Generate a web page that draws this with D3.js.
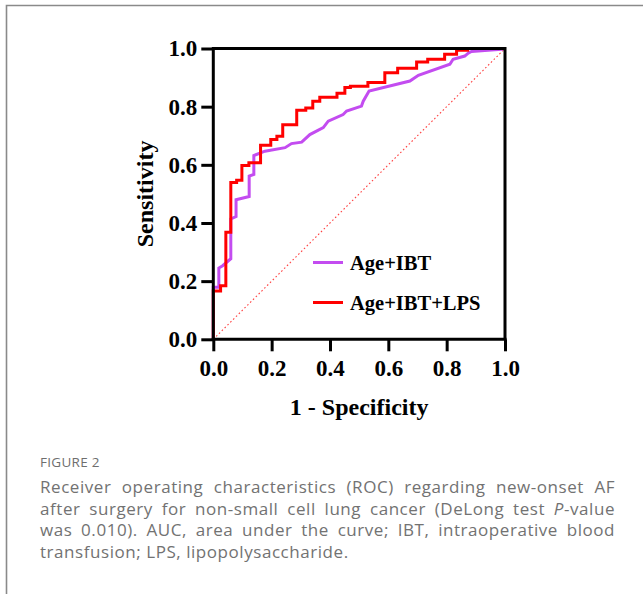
<!DOCTYPE html>
<html>
<head>
<meta charset="utf-8">
<script src="https://cdn.jsdelivr.net/npm/d3@7"></script>
<style>
html,body{margin:0;padding:0;background:#fff;}
svg{display:block;}
</style>
</head>
<body>
<svg id="chart" width="643" height="594"></svg>
<script>
// ---- data ----
const xTicks = [0, 0.2, 0.4, 0.6, 0.8, 1.0];
const yTicks = [0, 0.2, 0.4, 0.6, 0.8, 1.0];
const seriesNames = ["Age+IBT", "Age+IBT+LPS"];
// Age+IBT (purple) ROC vertices
const ageIbtFpr = [0,0,0.019,0.019,0.032,0.060,0.060,0.078,0.078,0.123,0.123,0.139,0.139,0.177,0.246,0.268,0.303,0.331,0.377,0.394,0.445,0.457,0.508,0.514,0.534,0.674,0.703,0.811,0.822,0.862,0.874,0.885,0.988,1];
const ageIbtTpr = [0,0.179,0.179,0.245,0.253,0.277,0.414,0.422,0.480,0.491,0.561,0.567,0.632,0.647,0.659,0.673,0.678,0.704,0.728,0.750,0.773,0.785,0.802,0.819,0.854,0.888,0.908,0.946,0.963,0.974,0.984,0.990,0.997,1];
// Age+IBT+LPS (red) ROC points (step after)
const ageIbtLpsFpr = [0,0,0.025,0.043,0.060,0.080,0.098,0.122,0.162,0.197,0.218,0.238,0.286,0.317,0.341,0.365,0.424,0.451,0.470,0.530,0.588,0.632,0.697,0.735,0.793,0.834,0.872,1];
const ageIbtLpsTpr = [0,0.166,0.184,0.368,0.539,0.547,0.598,0.607,0.667,0.687,0.698,0.738,0.788,0.795,0.819,0.832,0.846,0.866,0.870,0.883,0.917,0.932,0.954,0.963,0.980,0.994,1.0,1];
const captionTitle = "FIGURE 2";
const captionLines = [
  [{t:"Receiver operating characteristics (ROC) regarding new-onset AF"}],
  [{t:"after surgery for non-small cell lung cancer (DeLong test "},{t:"P",i:true},{t:"-value"}],
  [{t:"was 0.010). AUC, area under the curve; IBT, intraoperative blood"}],
  [{t:"transfusion; LPS, lipopolysaccharide."}]
];

// ---- drawing ----
const svg = d3.select("#chart");
svg.append("rect").attr("width",643).attr("height",594).attr("fill","#fff");
// page frame
svg.append("path").attr("d","M6.5,594 V5.5 H643").attr("fill","none").attr("stroke","#8a8a8a").attr("stroke-width",1.6);

const x = d3.scaleLinear().domain([0,1]).range([213.3,505]);
const y = d3.scaleLinear().domain([0,1]).range([339.3,48.5]);
const serif = "'Liberation Serif','Times New Roman',serif";

// diagonal reference
svg.append("line").attr("x1",x(0)).attr("y1",y(0)).attr("x2",x(1)).attr("y2",y(1))
  .attr("stroke","#ff4040").attr("stroke-width",1.1).attr("stroke-dasharray","1.6,2.4");

// curves
const purple = ageIbtFpr.map((f,i)=>[f,ageIbtTpr[i]]);
const red = ageIbtLpsFpr.map((f,i)=>[f,ageIbtLpsTpr[i]]);
const lineLin = d3.line().x(d=>x(d[0])).y(d=>y(d[1]));
const lineStep = d3.line().x(d=>x(d[0])).y(d=>y(d[1])).curve(d3.curveStepAfter);
svg.append("path").attr("d",lineLin(purple)).attr("fill","none").attr("stroke","#c34cf0").attr("stroke-width",3).attr("stroke-linejoin","miter");
svg.append("path").attr("d",lineStep(red)).attr("fill","none").attr("stroke","#ff0000").attr("stroke-width",3).attr("stroke-linejoin","miter");

// frame top/right
svg.append("path").attr("d",`M${x(0)},${y(1)} H${x(1)} V${y(0)}`).attr("fill","none").attr("stroke","#000").attr("stroke-width",3);

// axes
const xAxis = svg.append("g").attr("transform",`translate(0,${y(0)})`)
  .call(d3.axisBottom(x).tickValues(xTicks).tickFormat(d3.format(".1f")).tickSize(12).tickSizeOuter(0).tickPadding(8));
const yAxis = svg.append("g").attr("transform",`translate(${x(0)},0)`)
  .call(d3.axisLeft(y).tickValues(yTicks).tickFormat(d3.format(".1f")).tickSize(12).tickSizeOuter(0).tickPadding(4));
[xAxis,yAxis].forEach(g=>{
  g.select(".domain").attr("stroke","#000").attr("stroke-width",3);
  g.selectAll(".tick line").attr("stroke","#000").attr("stroke-width",3);
  g.selectAll(".tick text").attr("font-family",serif).attr("font-weight","bold").attr("font-size",23).attr("fill","#000");
});
xAxis.select(".domain").attr("d",`M${x(0)-1.5},0H${x(1)+1.5}`);
yAxis.select(".domain").attr("d",`M0,${y(0)+1.5}V${y(1)-1.5}`);

// axis titles
svg.append("text").attr("x",(x(0)+x(1))/2).attr("y",415).attr("text-anchor","middle")
  .attr("font-family",serif).attr("font-weight","bold").attr("font-size",24).text("1 - Specificity");
svg.append("text").attr("transform",`translate(153,${(y(0)+y(1))/2}) rotate(-90)`).attr("text-anchor","middle")
  .attr("font-family",serif).attr("font-weight","bold").attr("font-size",24).text("Sensitivity");

// legend
const legColors = ["#c34cf0","#ff0000"];
const legY = [262.5, 302.5];
seriesNames.forEach((n,i)=>{
  svg.append("line").attr("x1",313).attr("x2",343).attr("y1",legY[i]).attr("y2",legY[i]).attr("stroke",legColors[i]).attr("stroke-width",3);
  svg.append("text").attr("x",350).attr("y",legY[i]+7).attr("font-family",serif).attr("font-weight","bold").attr("font-size",20.5).text(n);
});

// caption
const sans = "'Open Sans','Noto Sans',sans-serif";
svg.append("text").attr("x",40).attr("y",467).attr("font-family",sans).attr("font-size",13.5).attr("fill","#6e6e6e").attr("letter-spacing",0.3).text(captionTitle);
const capW = 575;
captionLines.forEach((parts,li)=>{
  const t = svg.append("text").attr("x",40).attr("y",493+li*21.5).attr("font-family",sans).attr("font-size",17).attr("fill","#727272").attr("letter-spacing",0.55);
  parts.forEach(p=>{ const s=t.append("tspan").text(p.t); if(p.i) s.attr("font-style","italic"); });
  if(li < captionLines.length-1){
    const w = t.node().getComputedTextLength();
    const txt = parts.map(p=>p.t).join("");
    const nSp = (txt.match(/ /g)||[]).length;
    if(nSp>0) t.attr("word-spacing",Math.max(0,(capW-w)/nSp));
  }
});
</script>
</body>
</html>
